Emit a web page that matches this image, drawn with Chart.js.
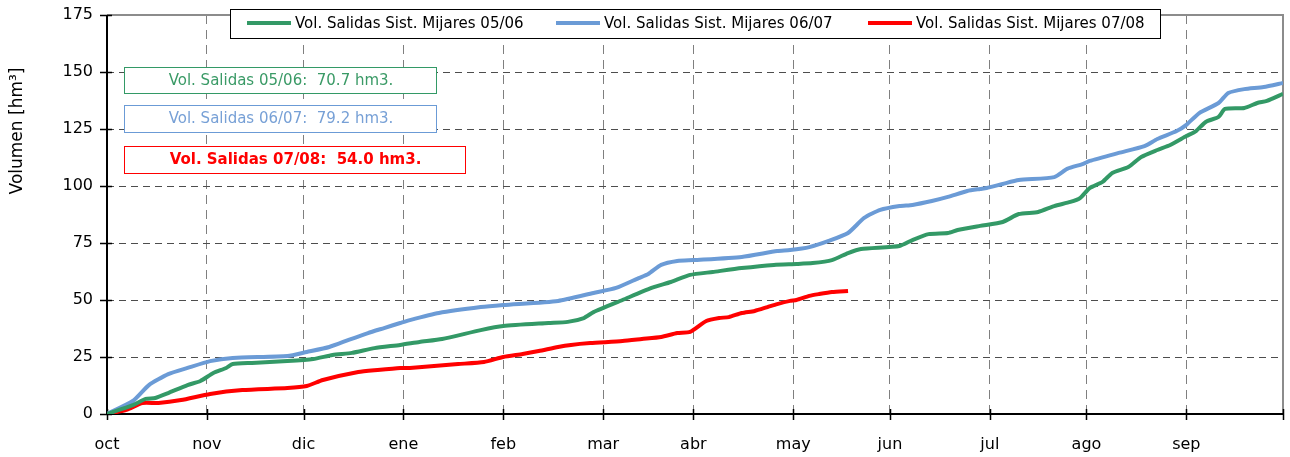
<!DOCTYPE html>
<html>
<head>
<meta charset="utf-8">
<script src="https://cdn.jsdelivr.net/npm/chart.js@4"></script>
<style>
  html, body { margin: 0; padding: 0; background: #fff; }
  #wrap { width: 1290px; height: 457px; }
</style>
</head>
<body>
<div id="wrap"><canvas id="volCanvas" width="1290" height="457"></canvas></div>
<script>
// month ticks (day of hydrological year, oct = 0)
const meses = ['oct', 'nov', 'dic', 'ene', 'feb', 'mar', 'abr', 'may', 'jun', 'jul', 'ago', 'sep', ''];
const inicioMes = [0, 31, 61, 92, 123, 154, 182, 213, 243, 274, 304, 335, 365];

const campanas = ['05/06', '06/07', '07/08'];
const totales = [70.7, 79.2, 54.0];

// 05/06
const dias0506 = [0, 8, 12, 15, 19, 25, 29, 33, 37, 39, 45, 56, 64, 70, 76, 83, 91, 97, 104, 116, 123, 137, 143, 148, 151, 160, 169, 175, 181, 188, 197, 207, 214, 219, 225, 230, 234, 246, 250, 255, 261, 264, 271, 278, 283, 289, 294, 299, 302, 305, 309, 312, 317, 321, 326, 330, 335, 338, 341, 345, 347, 353, 357, 360, 365];
const vol0506 = [0, 3.9, 6.6, 7.0, 9.2, 12.7, 14.5, 18.0, 20.2, 21.9, 22.4, 23.2, 24.1, 25.9, 26.8, 28.9, 30.3, 31.6, 32.9, 36.8, 38.6, 39.9, 40.4, 42.1, 44.7, 50.0, 55.3, 57.9, 61.0, 62.3, 64.0, 65.4, 65.8, 66.2, 67.5, 70.6, 72.4, 73.7, 76.3, 78.9, 79.4, 80.7, 82.5, 84.2, 87.7, 88.6, 91.2, 93.0, 94.7, 99.1, 101.8, 105.7, 108.3, 112.7, 115.8, 118.0, 121.9, 124.1, 128.1, 130.3, 133.8, 134.2, 136.4, 137.3, 140.4];

// 06/07
const dias0607 = [0, 8, 13, 19, 25, 32, 39, 56, 62, 69, 75, 81, 86, 91, 94, 103, 116, 123, 140, 151, 158, 165, 168, 172, 177, 182, 197, 208, 212, 218, 224, 230, 235, 240, 246, 250, 256, 261, 267, 271, 273, 278, 283, 294, 298, 303, 305, 314, 322, 326, 332, 335, 339, 345, 348, 353, 359, 365];
const vol0607 = [0, 5.7, 12.7, 17.5, 20.2, 23.2, 24.6, 25.4, 27.2, 29.4, 32.5, 35.5, 37.7, 39.9, 41.2, 44.3, 46.9, 47.8, 49.6, 53.1, 55.3, 59.6, 61.4, 65.4, 67.1, 67.5, 68.9, 71.5, 71.9, 73.2, 75.9, 79.4, 86.0, 89.5, 91.2, 91.7, 93.4, 95.2, 97.8, 98.7, 99.1, 100.9, 102.6, 103.9, 107.5, 109.7, 111.0, 114.5, 117.5, 120.6, 124.1, 126.8, 132.0, 136.4, 140.8, 142.5, 143.4, 145.2];

// 07/08
const dias0708 = [0, 6, 11, 16, 23, 32, 42, 56, 62, 67, 78, 84, 91, 94, 109, 117, 123, 129, 134, 140, 144, 150, 160, 166, 172, 177, 181, 186, 190, 193, 197, 201, 205, 208, 212, 214, 218, 221, 225, 230];
const vol0708 = [0, 1.8, 4.8, 4.8, 6.1, 8.8, 10.5, 11.4, 12.3, 14.9, 18.4, 19.3, 20.2, 20.2, 21.9, 22.8, 25.0, 26.3, 27.6, 29.4, 30.3, 31.1, 32.0, 32.9, 33.8, 35.5, 36.0, 40.8, 42.1, 42.5, 44.3, 45.2, 46.9, 48.2, 49.6, 50.0, 51.8, 52.6, 53.5, 54.0];

const colores = ['#339966', '#6b9bd6', '#ff0000'];
const coloresTexto = ['#3a9a66', '#77a0d6', '#ff0000'];

const toPoints = (dias, vols) => dias.map((d, i) => ({ x: d, y: vols[i] }));

const FONT = "'DejaVu Sans', Verdana, sans-serif";

// axes, borders, legend and the summary boxes, drawn the excel way
const decoracion = {
  id: 'decoracion',
  beforeDatasetsDraw(chart) {
    const { ctx, chartArea: { left, right, top, bottom }, scales: { x, y } } = chart;
    ctx.save();
    // plot border (gray)
    ctx.strokeStyle = '#8c8c8c';
    ctx.lineWidth = 2;
    ctx.beginPath();
    ctx.moveTo(left, top);
    ctx.lineTo(right, top);
    ctx.lineTo(right, bottom);
    ctx.stroke();
    // axis lines
    ctx.strokeStyle = '#000';
    ctx.lineWidth = 2;
    ctx.beginPath();
    ctx.moveTo(left, top);
    ctx.lineTo(left, bottom);
    ctx.lineTo(right, bottom);
    ctx.stroke();
    // tick marks crossing the axes
    ctx.lineWidth = 1.5;
    ctx.beginPath();
    y.ticks.forEach(t => {
      const py = Math.round(y.getPixelForValue(t.value)) + 0.5;
      ctx.moveTo(left - 7, py);
      ctx.lineTo(left + 5, py);
    });
    inicioMes.forEach(d => {
      const px = Math.round(x.getPixelForValue(d)) + 0.5;
      ctx.moveTo(px, bottom - 5);
      ctx.lineTo(px, bottom + 6);
    });
    ctx.stroke();
    ctx.restore();
  },
  afterDraw(chart) {
    const { ctx } = chart;
    ctx.save();

    // y title
    ctx.translate(18, 131);
    ctx.rotate(-Math.PI / 2);
    ctx.fillStyle = '#000';
    ctx.font = '17px ' + FONT;
    ctx.textAlign = 'center';
    ctx.textBaseline = 'middle';
    ctx.fillText('Volumen [hm³]', 0, 0);
    ctx.setTransform(1, 0, 0, 1, 0, 0);

    // legend
    ctx.fillStyle = '#fff';
    ctx.fillRect(230, 9, 930, 29);
    ctx.strokeStyle = '#000';
    ctx.lineWidth = 1;
    ctx.strokeRect(230.5, 9.5, 930, 29);
    const legX = [247, 556, 868];
    ctx.font = '15px ' + FONT;
    ctx.textAlign = 'left';
    ctx.textBaseline = 'middle';
    campanas.forEach((c, i) => {
      ctx.strokeStyle = colores[i];
      ctx.lineWidth = 4;
      ctx.beginPath();
      ctx.moveTo(legX[i], 23);
      ctx.lineTo(legX[i] + 44, 23);
      ctx.stroke();
      ctx.fillStyle = '#000';
      ctx.fillText('Vol. Salidas Sist. Mijares ' + c, legX[i] + 48, 24);
    });

    // summary boxes
    const cajas = [
      { x: 124, y: 67, w: 312, h: 26, bold: false },
      { x: 124, y: 105, w: 312, h: 27, bold: false },
      { x: 124, y: 146, w: 341, h: 27, bold: true },
    ];
    cajas.forEach((b, i) => {
      ctx.fillStyle = '#fff';
      ctx.fillRect(b.x, b.y, b.w, b.h);
      ctx.strokeStyle = colores[i];
      ctx.lineWidth = 1;
      ctx.strokeRect(b.x + 0.5, b.y + 0.5, b.w, b.h);
      ctx.fillStyle = coloresTexto[i];
      ctx.font = (b.bold ? 'bold ' : '') + '15px ' + FONT;
      ctx.textAlign = 'center';
      ctx.fillText('Vol. Salidas ' + campanas[i] + ':  ' + totales[i].toFixed(1) + ' hm3.', b.x + b.w / 2 + 1, b.y + b.h / 2 + 1);
    });
    ctx.restore();
  },
};

const ctx = document.getElementById('volCanvas').getContext('2d');

window.VolChartRef = new Chart(ctx, {
  type: 'line',
  data: {
    datasets: campanas.map((c, i) => ({
      label: 'Vol. Salidas Sist. Mijares ' + c,
      data: [toPoints(dias0506, vol0506), toPoints(dias0607, vol0607), toPoints(dias0708, vol0708)][i],
      borderColor: colores[i],
      backgroundColor: colores[i],
      borderWidth: 4,
      pointRadius: 0,
      tension: 0.2,
      fill: false,
    })),
  },
  options: {
    responsive: false,
    animation: false,
    layout: { padding: { top: 15, right: 7, left: 0, bottom: 0 } },
    plugins: {
      legend: { display: false },
      tooltip: { enabled: false },
    },
    scales: {
      x: {
        type: 'linear',
        min: 0,
        max: 365,
        afterBuildTicks(scale) {
          scale.ticks = inicioMes.map(v => ({ value: v }));
        },
        afterFit(scale) {
          scale.height = 43;
          scale.paddingLeft = 0;
          scale.paddingRight = 0;
        },
        grid: { color: '#7f7f7f', lineWidth: 1, drawTicks: false },
        border: { display: false, dash: [9, 6] },
        ticks: {
          autoSkip: false,
          maxRotation: 0,
          padding: 21,
          color: '#000',
          font: { family: FONT, size: 16 },
          callback: (v, i) => meses[i],
        },
      },
      y: {
        min: 0,
        max: 175,
        afterFit(scale) {
          scale.width = 107;
          scale.paddingTop = 0;
          scale.paddingBottom = 0;
        },
        grid: { color: '#4d4d4d', lineWidth: 1, drawTicks: false },
        border: { display: false, dash: [7, 5] },
        ticks: {
          stepSize: 25,
          padding: 14,
          color: '#000',
          font: { family: FONT, size: 16 },
        },
      },
    },
  },
  plugins: [decoracion],
});
</script>
</body>
</html>
